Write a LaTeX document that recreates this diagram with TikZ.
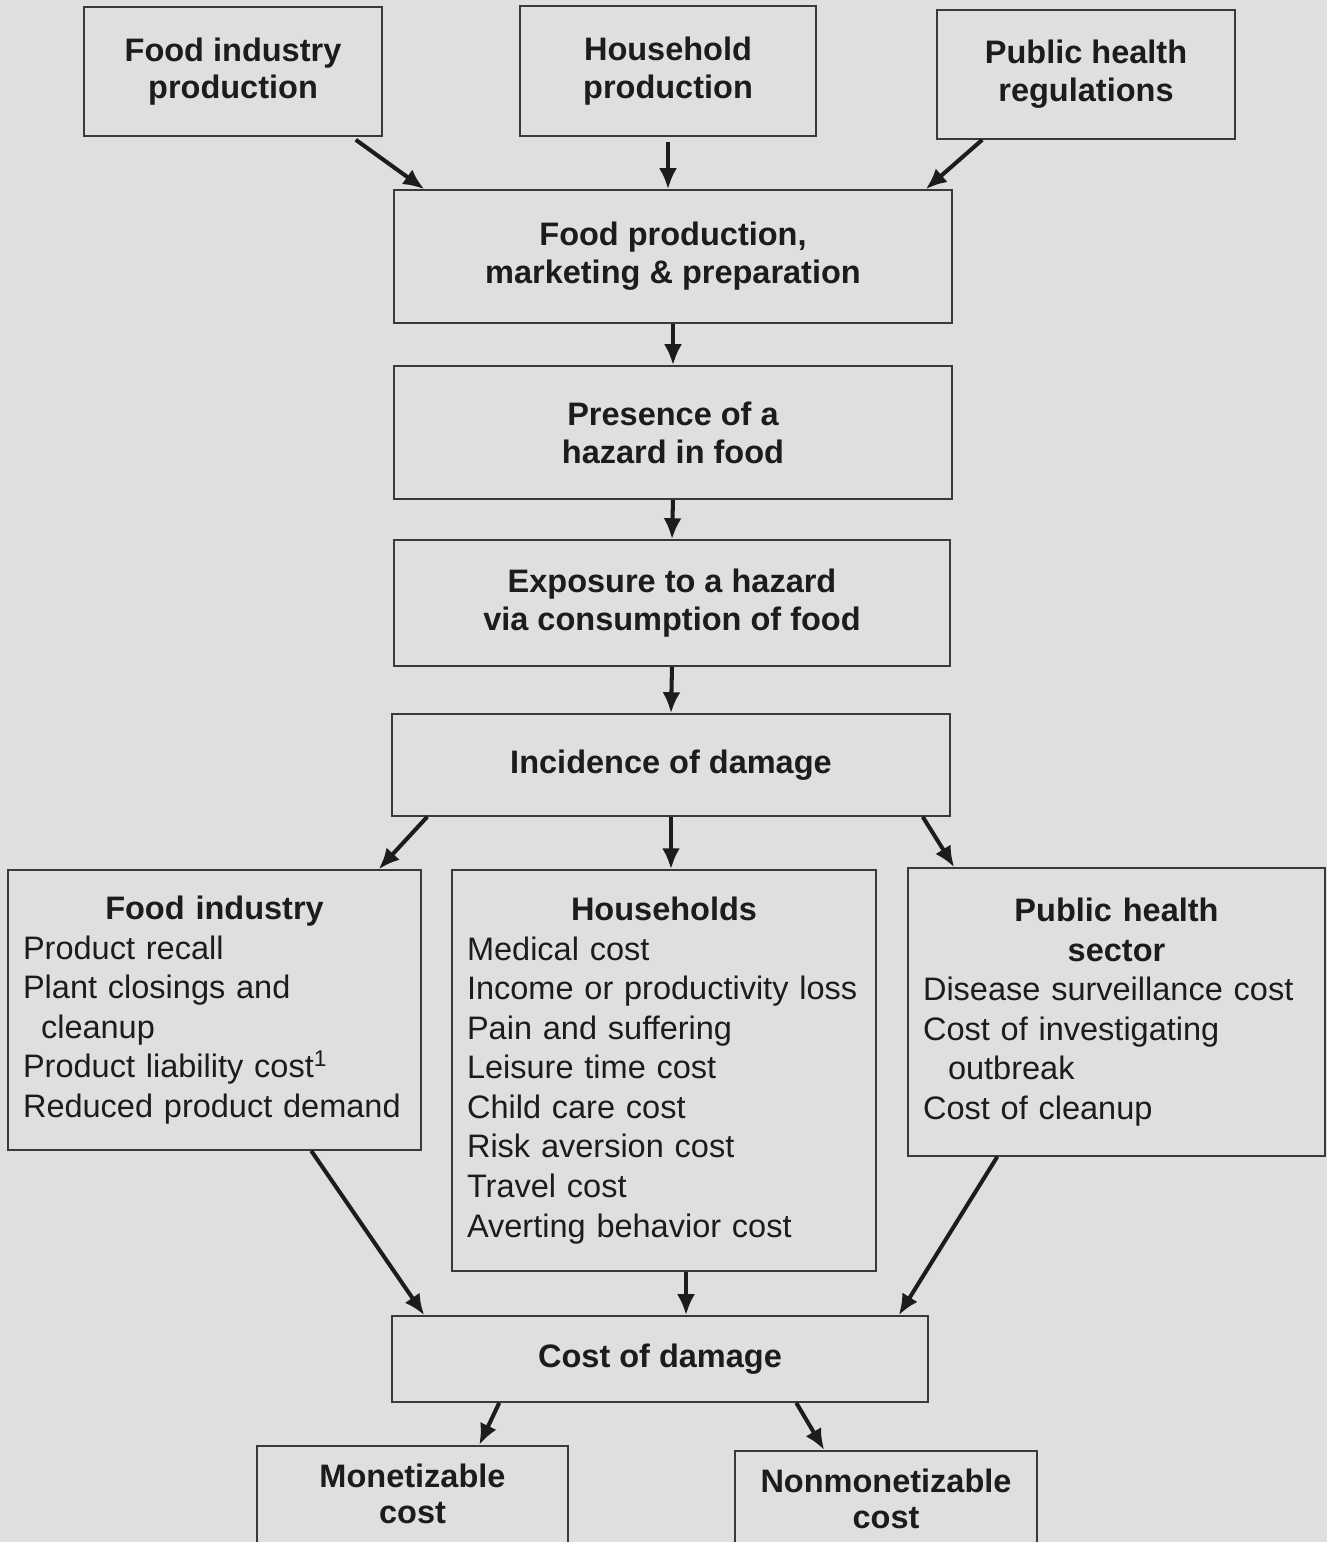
\documentclass[tikz,border=0pt]{standalone}
\usepackage{fontspec}
\setmainfont{Liberation Sans}
\usetikzlibrary{arrows.meta,calc}
\definecolor{Paper}{HTML}{DFDFDF}
\definecolor{Ink}{HTML}{1C1C1C}
\definecolor{Edge}{HTML}{3A3A3A}
\tikzset{
  box/.style={draw=Edge, line width=0.9pt, align=center, text=Ink, inner sep=0pt,
              font=\fontsize{18.5}{21.5}\selectfont\bfseries},
  listbox/.style={box, align=left, inner xsep=0.3cm,
              font=\fontsize{18.5}{22.5}\selectfont},
  stub/.style={box, anchor=north},
  flow/.style={-{Latex[length=4.2mm,width=3.6mm]}, line width=2.3pt, Ink},
}
\begin{document}
\begin{tikzpicture}[x=0.02cm, y=-0.02cm]
  \path[use as bounding box, fill=Paper] (0,0) rectangle (1327,1542);
  \clip (0,0) rectangle (1327,1542);
  % sources
  \node[box, minimum width=5.96cm, minimum height=2.58cm] (fip) at (233,71.5) {Food industry\\production};
  \node[box, minimum width=5.92cm, minimum height=2.6cm] (hp) at (668,71) {Household\\production};
  \node[box, minimum width=5.96cm, minimum height=2.58cm] (phr) at (1086,74.5) {Public health\\regulations};
  % main chain
  \node[box, minimum width=11.16cm, minimum height=2.66cm] (fpm) at (673,256.5) {Food production,\\marketing \& preparation};
  \node[box, minimum width=11.16cm, minimum height=2.66cm] (haz) at (673,432.5) {Presence of a\\hazard in food};
  \node[box, minimum width=11.12cm, minimum height=2.52cm] (exp) at (672,603) {Exposure to a hazard\\via consumption of food};
  \node[box, minimum width=11.16cm, minimum height=2.04cm] (inc) at (671,765) {Incidence of damage};
  % who bears the cost
  \node[listbox, text width=7.66cm, minimum height=5.6cm] (fi) at (214.5,1010) {%
    {\centering\bfseries Food industry\par}
    Product recall\\
    Plant closings and\\
    \hspace*{0.36cm}cleanup\\
    Product liability cost\textsuperscript{1}\\
    Reduced product demand};
  \node[listbox, text width=7.88cm, minimum height=8.02cm] (hh) at (664,1070.5) {%
    {\centering\bfseries Households\par}
    Medical cost\\
    Income or productivity loss\\
    Pain and suffering\\
    Leisure time cost\\
    Child care cost\\
    Risk aversion cost\\
    Travel cost\\
    Averting behavior cost};
  \node[listbox, text width=7.74cm, minimum height=5.76cm] (ph) at (1116.5,1012) {%
    {\centering\bfseries Public health\\sector\par}
    Disease surveillance cost\\
    Cost of investigating\\
    \hspace*{0.5cm}outbreak\\
    Cost of cleanup};
  % totals
  \node[box, minimum width=10.72cm, minimum height=1.72cm] (cod) at (660,1359) {Cost of damage};
  \node[stub, minimum width=6.22cm] (mon) at (412.5,1445) {\rule{0pt}{0.84cm}Monetizable\\[-1pt]cost\\[2cm]};
  \node[stub, minimum width=6.04cm] (nmon) at (886,1450) {\rule{0pt}{0.84cm}Nonmonetizable\\[-1pt]cost\\[2cm]};
  \coordinate (hhout) at ($(hh.south)+(22,0)$);

  \draw[flow] ($(fip.south east)+(-27,3)$) -- ($(fpm.north west)+(31,0)$);
  \draw[flow, shorten <=3pt] (hp.south) -- (hp.south |- fpm.north);
  \draw[flow] ($(phr.south west)+(46,0)$) -- ($(fpm.north east)+(-27,0)$);
  \draw[flow] (fpm.south) -- (haz.north);
  \draw[flow] (haz.south) -- (exp.north);
  \draw[flow] (exp.south) -- (inc.north);
  \draw[flow] ($(inc.south west)+(36,0)$) -- ($(fi.north east)+(-43,0)$);
  \draw[flow] (inc.south) -- (inc.south |- hh.north);
  \draw[flow] ($(inc.south east)+(-28,0)$) -- ($(ph.north west)+(47,0)$);
  \draw[flow] ($(fi.south west)+(304,0)$) -- ($(cod.north west)+(33,0)$);
  \draw[flow] (hhout) -- (hhout |- cod.north);
  \draw[flow] ($(ph.south west)+(90,0)$) -- ($(cod.north east)+(-30,0)$);
  \draw[flow] ($(cod.south west)+(108,0)$) -- ($(mon.north west)+(223,0)$);
  \draw[flow] ($(cod.south west)+(405,0)$) -- ($(nmon.north west)+(90,0)$);
\end{tikzpicture}
\end{document}
